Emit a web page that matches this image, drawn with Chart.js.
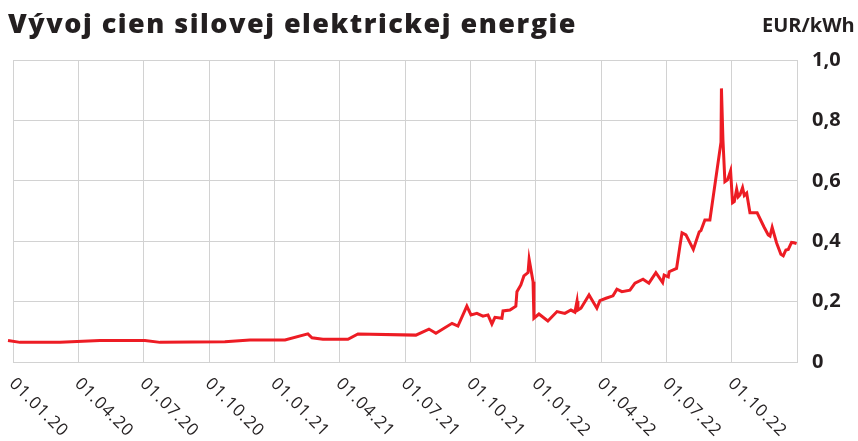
<!DOCTYPE html>
<html lang="sk">
<head>
<meta charset="utf-8">
<title>Vývoj cien silovej elektrickej energie</title>
<script src="https://cdn.jsdelivr.net/npm/chart.js@4.4.0/dist/chart.umd.min.js"></script>
<style>
    html, body { margin: 0; padding: 0; background: #fff; }
    #wrap { position: relative; width: 858px; height: 441px; overflow: hidden; }
    #title {
        position: absolute; left: 8px; top: 9px;
        font: 800 27px/1 "Open Sans", sans-serif; letter-spacing: 1.5px;
        color: #231f20; white-space: nowrap;
    }
    #unit {
        position: absolute; left: 762px; top: 15px;
        font: 700 20px/1 "Open Sans", sans-serif; color: #231f20; white-space: nowrap;
    }
    canvas { position: absolute; left: 0; top: 0; }
</style>
</head>
<body>
<div id="wrap">
    <canvas id="priceChart" width="858" height="441"></canvas>
    <div id="title">Vývoj cien silovej elektrickej energie</div>
    <div id="unit">EUR/kWh</div>
</div>
<script>
// Tick labels of the x axis (one every 3 months, starting 01.01.2020)
const tickLabels = ['01.01.20', '01.04.20', '01.07.20', '01.10.20',
    '01.01.21', '01.04.21', '01.07.21', '01.10.21',
    '01.01.22', '01.04.22', '01.07.22', '01.10.22'];

// Position in months since 01.01.2020
const months = [-0.23, 0.32, 2.16, 3.99, 6.06, 6.75, 9.73, 10.88, 12.49, 13.54,
    13.73, 14.23, 15.38, 15.84, 18.50, 19.10, 19.42, 20.16, 20.43, 20.84,
    21.03, 21.30, 21.58, 21.81, 21.99, 22.13, 22.45, 22.50, 22.82, 23.09,
    23.14, 23.32, 23.46, 23.65, 23.70, 23.88, 23.92, 24.15, 24.56, 24.98,
    25.34, 25.62, 25.80, 25.90, 25.94, 26.08, 26.45, 26.81, 26.95, 27.23,
    27.55, 27.73, 27.96, 28.33, 28.56, 28.93, 29.20, 29.52, 29.83, 29.90,
    30.09, 30.13, 30.47, 30.62, 30.72, 30.90, 31.24, 31.51, 31.59, 31.77,
    32.00, 32.51, 32.53, 32.60, 32.69, 32.81, 32.95, 33.04, 33.12, 33.23,
    33.30, 33.38, 33.50, 33.58, 33.69, 33.84, 34.17, 34.48, 34.68, 34.76,
    34.86, 35.06, 35.26, 35.37, 35.49, 35.60, 35.75, 35.86, 35.98];

// Price in EUR/kWh
const prices = [0.071, 0.065, 0.065, 0.071, 0.071, 0.065, 0.067, 0.073, 0.073, 0.093,
    0.080, 0.075, 0.075, 0.093, 0.089, 0.109, 0.095, 0.128, 0.119, 0.185,
    0.156, 0.161, 0.152, 0.156, 0.126, 0.148, 0.145, 0.169, 0.172, 0.185,
    0.233, 0.255, 0.285, 0.296, 0.340, 0.266, 0.145, 0.159, 0.136, 0.167,
    0.161, 0.172, 0.165, 0.202, 0.172, 0.178, 0.222, 0.178, 0.203, 0.211,
    0.219, 0.241, 0.233, 0.238, 0.261, 0.274, 0.261, 0.296, 0.263, 0.288,
    0.282, 0.299, 0.310, 0.382, 0.428, 0.421, 0.373, 0.431, 0.435, 0.470,
    0.470, 0.728, 0.906, 0.735, 0.597, 0.603, 0.633, 0.527, 0.531, 0.572,
    0.547, 0.553, 0.577, 0.551, 0.559, 0.494, 0.494, 0.448, 0.421, 0.417,
    0.446, 0.395, 0.357, 0.352, 0.371, 0.373, 0.396, 0.395, 0.392];

const textColor = '#231f20';
const gridColor = '#d2d2d2';

// Diagonal x labels (rotated clockwise, starting at the tick)
const xLabelsPlugin = {
    id: 'xLabels',
    afterDraw(chart) {
        const ctx = chart.ctx;
        const xScale = chart.scales.x;
        ctx.save();
        ctx.font = '17px "Open Sans"';
        ctx.fillStyle = textColor;
        ctx.textAlign = 'left';
        ctx.textBaseline = 'middle';
        ctx.letterSpacing = '1px';
        tickLabels.forEach((label, i) => {
            const px = xScale.getPixelForValue(i * 3);
            ctx.save();
            ctx.translate(px - 1, chart.chartArea.bottom + 19);
            ctx.rotate(Math.PI / 4);
            ctx.fillText(label, 0, 0);
            ctx.restore();
        });
        ctx.restore();
    }
};

const ctx = document.getElementById('priceChart').getContext('2d');
const priceChart = new Chart(ctx, {
    type: 'line',
    data: {
        datasets: [{
            data: months.map((m, i) => ({ x: m, y: prices[i] })),
            borderColor: '#ed1c24',
            borderWidth: 3,
            pointRadius: 0,
            tension: 0,
            clip: false
        }]
    },
    options: {
        responsive: false,
        animation: false,
        layout: { padding: { left: 13, top: 60 } },
        plugins: {
            legend: { display: false },
            tooltip: { enabled: false }
        },
        scales: {
            x: {
                type: 'linear',
                min: 0,
                max: 36,
                ticks: { stepSize: 3, display: false },
                grid: { color: gridColor, drawTicks: false },
                border: { color: gridColor },
                afterFit: scale => { scale.height = 79; }
            },
            y: {
                position: 'right',
                min: 0,
                max: 1,
                ticks: {
                    stepSize: 0.2,
                    padding: 15,
                    color: textColor,
                    font: { family: 'Open Sans', size: 20, weight: 'bold' },
                    callback: value => value === 0 ? '0' : value.toFixed(1).replace('.', ',')
                },
                grid: { color: gridColor, drawTicks: false },
                border: { color: gridColor },
                afterFit: scale => { scale.width = 61; }
            }
        }
    },
    plugins: [xLabelsPlugin]
});
</script>
</body>
</html>
